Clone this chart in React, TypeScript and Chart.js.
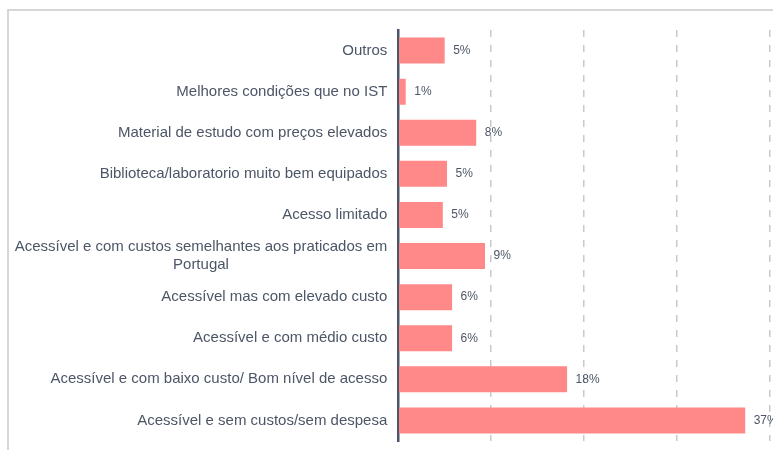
import React, { useEffect, useRef } from 'react';
import { Chart, registerables } from 'chart.js';

Chart.register(...registerables);

const categories: string[][] = [
  ['Outros'],
  ['Melhores condições que no IST'],
  ['Material de estudo com preços elevados'],
  ['Biblioteca/laboratorio muito bem equipados'],
  ['Acesso limitado'],
  ['Acessível e com custos semelhantes aos praticados em', 'Portugal'],
  ['Acessível mas com elevado custo'],
  ['Acessível e com médio custo'],
  ['Acessível e com baixo custo/ Bom nível de acesso'],
  ['Acessível e sem custos/sem despesa'],
];
const values: number[] = [5.0, 0.8, 8.4, 5.25, 4.8, 9.35, 5.8, 5.8, 18.2, 37.4];
const valueLabels: string[] = ['5%', '1%', '8%', '5%', '5%', '9%', '6%', '6%', '18%', '37%'];
const xMin = 0;
const xMax = 40;
const xStep = 10;

const TEXT = '#4d5666';
const FONT = '"Liberation Sans", Arial, sans-serif';

const labelPlugin = {
  id: 'customLabels',
  afterDraw(chart: any) {
    const ctx = chart.ctx as CanvasRenderingContext2D;
    const yScale = chart.scales.y;
    const area = chart.chartArea;
    ctx.save();
    // category labels
    ctx.font = `15px ${FONT}`;
    ctx.fillStyle = TEXT;
    ctx.textBaseline = 'middle';
    ctx.textAlign = 'center';
    const rightEdge = area.left - 11;
    categories.forEach((lines, i) => {
      const y = yScale.getPixelForValue(i);
      const w = Math.max(...lines.map((l) => ctx.measureText(l).width));
      const cx = rightEdge - w / 2;
      const lh = 18;
      lines.forEach((l, j) => {
        ctx.fillText(l, cx, y + (j - (lines.length - 1) / 2) * lh);
      });
    });
    // value labels
    ctx.font = `12px ${FONT}`;
    ctx.textAlign = 'left';
    const meta = chart.getDatasetMeta(0);
    meta.data.forEach((bar: any, i: number) => {
      ctx.fillText(valueLabels[i], bar.x + 8.5, bar.y);
    });
    ctx.restore();
  },
};

export default function App() {
  const ref = useRef<HTMLCanvasElement | null>(null);

  useEffect(() => {
    if (!ref.current) return;
    const chart = new Chart(ref.current, {
      type: 'bar',
      data: {
        labels: categories.map((c) => c.join(' ')),
        datasets: [
          {
            data: values,
            backgroundColor: '#ff8888',
            borderWidth: 0,
            barPercentage: 0.633,
            categoryPercentage: 1,
          },
        ],
      },
      options: {
        indexAxis: 'y',
        responsive: false,
        animation: false,
        events: [],
        layout: { padding: { top: 30, bottom: 9, left: 0, right: 3.7 } },
        plugins: {
          legend: { display: false },
          tooltip: { enabled: false },
          title: { display: false },
        },
        scales: {
          x: {
            min: xMin,
            max: xMax,
            ticks: { display: false, stepSize: xStep },
            grid: {
              color: (c: any) => (c.tick && c.tick.value === 0 ? 'rgba(0,0,0,0)' : '#c9c9c9'),
              lineWidth: 1.5,
              drawTicks: false,
            },
            border: { display: false, dash: [7, 8] },
            afterFit: (s: any) => {
              s.height = 0;
            },
          },
          y: {
            z: 1,
            ticks: { display: false },
            grid: { display: false, drawTicks: false },
            border: { display: true, color: '#4a5568', width: 2.5 },
            afterFit: (s: any) => {
              s.width = 398.3;
            },
          },
        },
      },
      plugins: [labelPlugin],
    } as any);
    return () => chart.destroy();
  }, []);

  return (
    <div
      style={{
        position: 'fixed',
        left: 0,
        top: 0,
        width: 773,
        height: 450,
        overflow: 'hidden',
        background: '#ffffff',
      }}
    >
      <div
        style={{
          position: 'absolute',
          left: 7,
          top: 9,
          width: 900,
          height: 600,
          border: '2px solid #d6d6d6',
          boxSizing: 'border-box',
        }}
      />
      <canvas
        ref={ref}
        width={773}
        height={450}
        style={{ position: 'absolute', left: 0, top: 0, width: 773, height: 450 }}
      />
    </div>
  );
}
